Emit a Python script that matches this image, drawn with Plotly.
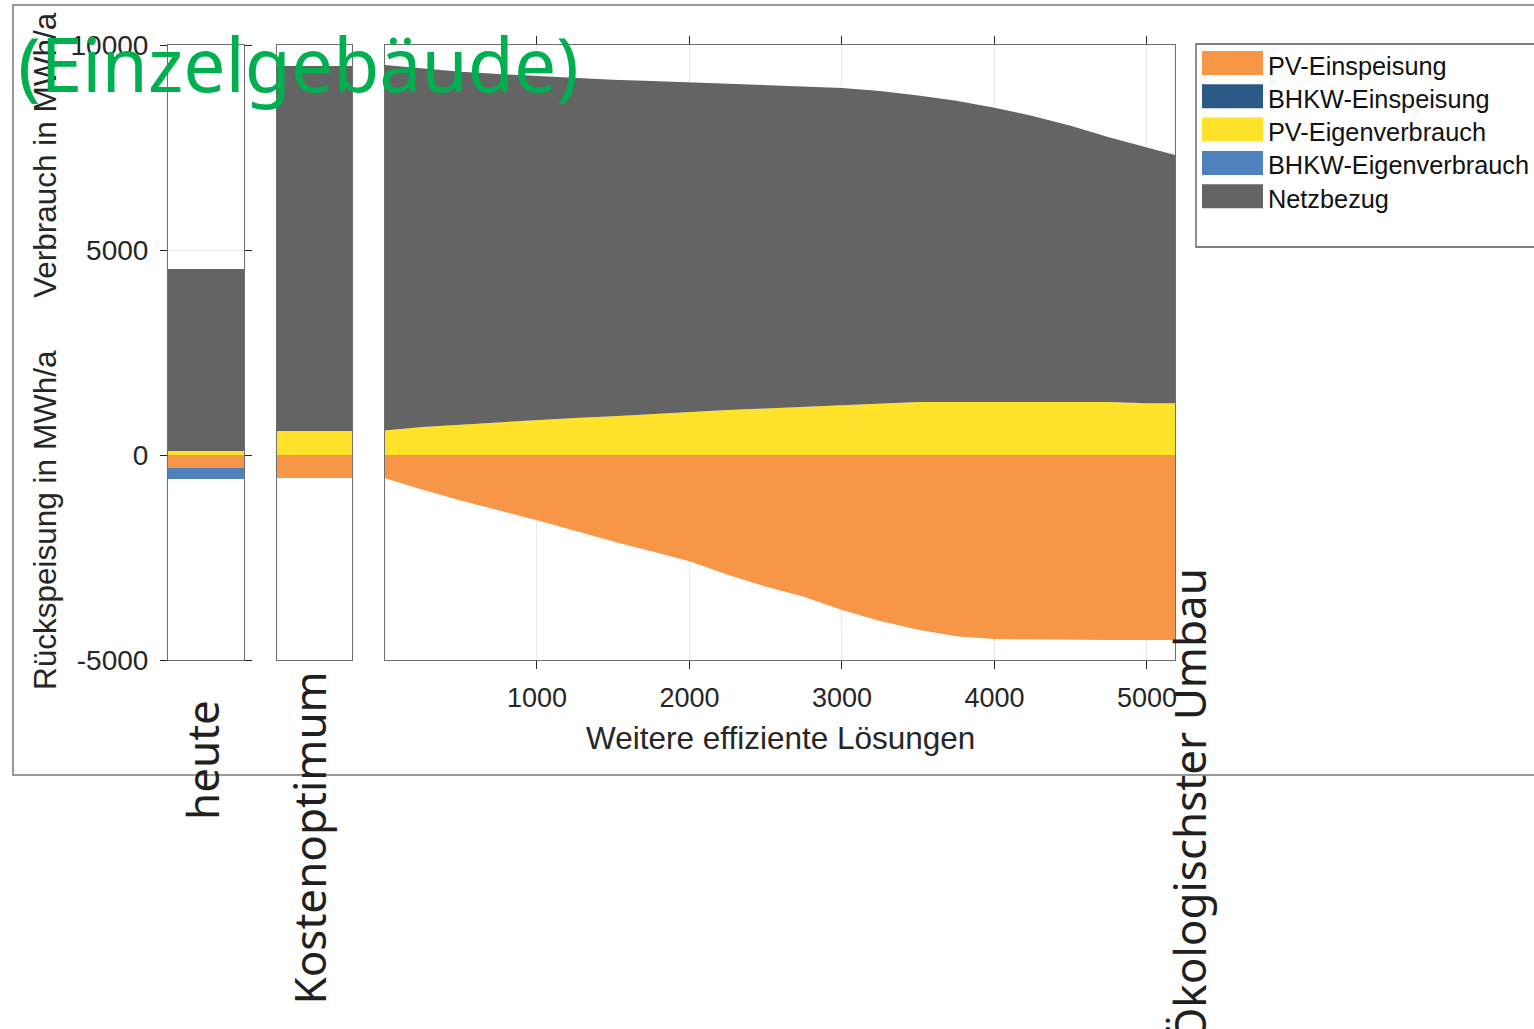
import plotly.graph_objects as go

# ---- data -------------------------------------------------------------
bar_categories = ["heute", "Kostenoptimum"]
bar_pv_einspeisung = [-320, -560]
bar_bhkw_einspeisung = [0, 0]
bar_pv_eigenverbrauch = [100, 593]
bar_bhkw_eigenverbrauch = [-270, 0]
bar_netzbezug = [4430, 8897]

# further efficient solutions (index of solution)
solution_idx = [0, 250, 500, 750, 1000, 1250, 1500, 1750, 2000, 2250, 2500,
                2750, 3000, 3250, 3500, 3750, 4000, 4250, 4500, 4750, 5000, 5184]
area_pv_eigenverbrauch = [600, 680, 740, 800, 850, 905, 945, 1000, 1055, 1095, 1135,
                          1175, 1210, 1245, 1290, 1292, 1292, 1292, 1292, 1292, 1262, 1262]
area_netzbezug = [8910, 8750, 8610, 8490, 8390, 8285, 8210, 8125, 8035, 7960, 7885,
                  7810, 7740, 7635, 7480, 7348, 7178, 6978, 6738, 6458, 6243, 6058]
area_pv_einspeisung = [-560, -850, -1110, -1350, -1590, -1850, -2110, -2350, -2590, -2920, -3210,
                       -3460, -3780, -4050, -4260, -4420, -4490, -4495, -4510, -4512, -4512, -4512]

x_tickvals = [1000, 2000, 3000, 4000, 5000]
y_tickvals = [-5000, 0, 5000, 10000]
y_ticktext = ["-5000", "0", "5000", "10000"]

legend_names = ["PV-Einspeisung", "BHKW-Einspeisung", "PV-Eigenverbrauch",
                "BHKW-Eigenverbrauch", "Netzbezug"]

# ---- styling ----------------------------------------------------------
C_PV_EINSP = "#F79646"
C_BHKW_EINSP = "#2C5A87"
C_PV_EIGEN = "#FFE229"
C_BHKW_EIGEN = "#4F81BD"
C_NETZ = "#646464"
legend_colors = [C_PV_EINSP, C_BHKW_EINSP, C_PV_EIGEN, C_BHKW_EIGEN, C_NETZ]

W, H = 1534, 1029
FONT = "Liberation Sans, Arial, sans-serif"
TITLE_FONT = "Noto Sans, sans-serif"
AX_LINE = "#6E6E6E"
GRID = "#E8E8E8"


def px(x):
    return x / W


def py(y):
    return 1 - y / H


fig = go.Figure()

# ---- stacked bars: heute / Kostenoptimum --------------------------------
bar_series = [
    (bar_pv_einspeisung, C_PV_EINSP),
    (bar_bhkw_eigenverbrauch, C_BHKW_EIGEN),
    (bar_bhkw_einspeisung, C_BHKW_EINSP),
    (bar_pv_eigenverbrauch, C_PV_EIGEN),
    (bar_netzbezug, C_NETZ),
]
for i, cat in enumerate(bar_categories):
    xa = "x" if i == 0 else "x2"
    ya = "y" if i == 0 else "y2"
    for values, color in bar_series:
        fig.add_trace(go.Bar(
            x=[cat], y=[values[i]], xaxis=xa, yaxis=ya,
            marker=dict(color=color, line=dict(width=0)),
            showlegend=False, hoverinfo="skip",
        ))

# ---- stacked areas: further efficient solutions -----------------------
fig.add_trace(go.Scatter(
    x=solution_idx, y=area_pv_einspeisung, xaxis="x3", yaxis="y3",
    stackgroup="neg", mode="lines", line=dict(width=0, color=C_PV_EINSP),
    fillcolor=C_PV_EINSP, showlegend=False, hoverinfo="skip",
))
fig.add_trace(go.Scatter(
    x=solution_idx, y=area_pv_eigenverbrauch, xaxis="x3", yaxis="y3",
    stackgroup="pos", mode="lines", line=dict(width=0, color=C_PV_EIGEN),
    fillcolor=C_PV_EIGEN, showlegend=False, hoverinfo="skip",
))
fig.add_trace(go.Scatter(
    x=solution_idx, y=area_netzbezug, xaxis="x3", yaxis="y3",
    stackgroup="pos", mode="lines", line=dict(width=0, color=C_NETZ),
    fillcolor=C_NETZ, showlegend=False, hoverinfo="skip",
))

# ---- axes ---------------------------------------------------------------
ydom = [py(660), py(45)]
common_y = dict(range=[-5000, 10000], domain=ydom, showgrid=True, gridcolor=GRID,
                gridwidth=1, zeroline=False, showline=True, linecolor=AX_LINE,
                linewidth=1, tickvals=y_tickvals, ticktext=y_ticktext,
                automargin=False)

fig.update_layout(
    width=W, height=H,
    margin=dict(l=0, r=0, t=0, b=0, pad=0, autoexpand=False),
    paper_bgcolor="white", plot_bgcolor="white",
    barmode="relative", bargap=0,
    showlegend=False,
    font=dict(family=FONT, color="#262626"),
    xaxis=dict(domain=[px(168), px(244)], showline=True, mirror=True,
               linecolor=AX_LINE, showticklabels=False, ticks="",
               showgrid=False, automargin=False),
    xaxis2=dict(domain=[px(277), px(352)], showline=True, mirror=True,
                linecolor=AX_LINE, showticklabels=False, ticks="",
                showgrid=False, anchor="y2", automargin=False),
    xaxis3=dict(domain=[px(384.5), px(1175)], range=[0, 5184], anchor="y3",
                showline=True, mirror="ticks", linecolor=AX_LINE,
                ticks="outside", ticklen=8, tickcolor="#262626",
                tickvals=x_tickvals, tickfont=dict(size=27, color="#262626"),
                ticklabelstandoff=6,
                showgrid=True, gridcolor=GRID, zeroline=False, automargin=False),
    yaxis=dict(**common_y, mirror="ticks", ticks="outside", ticklen=7,
               tickcolor="#262626", tickfont=dict(size=28, color="#262626"),
               ticklabelstandoff=6, showticklabels=True),
    yaxis2=dict(**common_y, mirror=True, ticks="", showticklabels=False,
                anchor="x2"),
    yaxis3=dict(**common_y, mirror=True, ticks="", showticklabels=False,
                anchor="x3"),
)

# ---- outer frame and legend box -----------------------------------------
shapes = [
    dict(type="rect", xref="paper", yref="paper", x0=px(13), x1=px(1545),
         y0=py(775), y1=py(5), line=dict(color="#999999", width=2), layer="below"),
    dict(type="rect", xref="paper", yref="paper", x0=px(1196), x1=px(1545),
         y0=py(247), y1=py(44), line=dict(color="#555555", width=1.3),
         fillcolor="white"),
]
annotations = []
for k, (name, color) in enumerate(zip(legend_names, legend_colors)):
    yc = 63 + k * 33.3
    shapes.append(dict(type="rect", xref="paper", yref="paper",
                       x0=px(1202), x1=px(1263), y0=py(yc + 12), y1=py(yc - 12),
                       fillcolor=color, line=dict(width=0)))
    annotations.append(dict(text=name, xref="paper", yref="paper",
                            x=px(1266), y=py(yc + 2.5), xanchor="left", yanchor="middle",
                            showarrow=False, font=dict(size=25.3, color="#111111",
                                                       family=FONT)))

# ---- axis titles ------------------------------------------------------
annotations += [
    dict(text="Verbrauch in MWh/a", xref="paper", yref="paper", x=px(45), y=py(300),
         xanchor="center", yanchor="bottom", textangle=-90, showarrow=False,
         font=dict(size=31.5, color="#262626", family=FONT)),
    dict(text="Rückspeisung in MWh/a", xref="paper", yref="paper", x=px(45), y=py(692),
         xanchor="center", yanchor="bottom", textangle=-90, showarrow=False,
         font=dict(size=31.5, color="#262626", family=FONT)),
    dict(text="Weitere effiziente Lösungen", xref="paper", yref="paper",
         x=px(780), y=py(738), xanchor="center", yanchor="middle", showarrow=False,
         font=dict(size=31.5, color="#262626", family=FONT)),
]

# ---- category labels --------------------------------------------------
for label, xc, ytop in [("heute", 202, 698), ("Kostenoptimum", 308, 670),
                        ("Ökologischster Umbau", 1189, 566)]:
    annotations.append(dict(text=label, xref="paper", yref="paper", x=px(xc), y=py(ytop),
                            xanchor="center", yanchor="top", textangle=-90,
                            showarrow=False,
                            font=dict(size=44, color="#231F20", family=TITLE_FONT)))

# ---- title ------------------------------------------------------------
annotations.append(dict(text="(Einzelgebäude)", xref="paper", yref="paper",
                        x=px(16), y=py(63), xanchor="left", yanchor="middle",
                        showarrow=False,
                        font=dict(size=75, color="#00B050", family=TITLE_FONT)))

fig.update_layout(shapes=shapes, annotations=annotations)

fig.write_html("out.html")
